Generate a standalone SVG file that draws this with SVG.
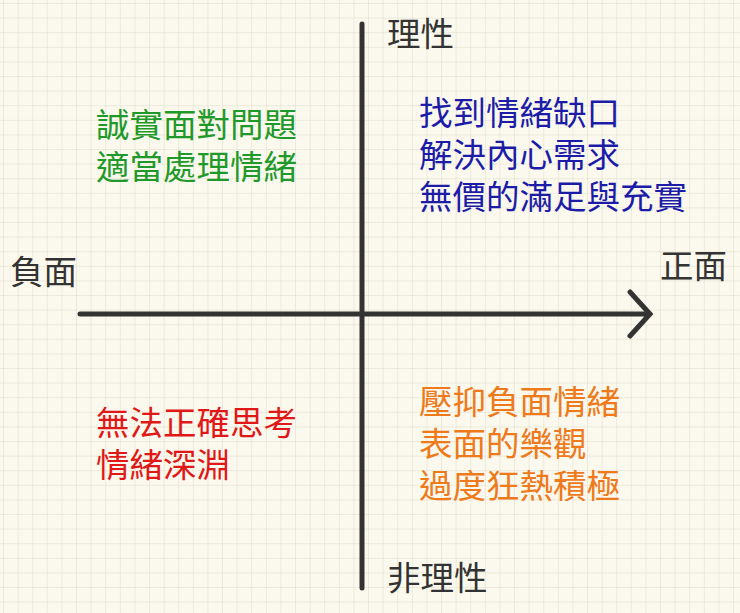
<svg xmlns="http://www.w3.org/2000/svg" width="740" height="613" viewBox="0 0 740 613">
<defs>
<pattern id="g" width="14.6" height="14.6" patternUnits="userSpaceOnUse" x="4" y="4">
<path d="M14.6 0V14.6H0" fill="none" stroke="#dedbc6" stroke-width="1"/>
</pattern>
<style>
text{font-family:"Noto Sans CJK TC","Noto Sans CJK SC",sans-serif;font-size:33.5px}
.ax{fill:#333}
.g{fill:#1f9a2a}.b{fill:#1c1ca8}.r{fill:#e01818}.o{fill:#ee7a1c}
</style>
</defs>
<rect width="740" height="613" fill="#fbf9ee"/>
<rect width="740" height="613" fill="url(#g)"/>
<g id="connectors" stroke="#333" stroke-width="5" stroke-linecap="round" fill="none">
<path d="M362 24V588"/>
<path d="M80 314H650M630 292L650 314L630 336"/>
</g>
<g id="labels" class="ax">
<text class="ax" x="387" y="46">理性</text>
<text class="ax" x="387" y="590">非理性</text>
<text class="ax" x="10" y="284">負面</text>
<text class="ax" x="660" y="278">正面</text>
</g>
<g id="q1"><text class="g" x="96" y="137">誠實面對問題</text><text class="g" x="96" y="179">適當處理情緒</text></g>
<g id="q2"><text class="b" x="419" y="125">找到情緒缺口</text><text class="b" x="419" y="167">解決內心需求</text><text class="b" x="419" y="209">無價的滿足與充實</text></g>
<g id="q3"><text class="r" x="96" y="435">無法正確思考</text><text class="r" x="96" y="477">情緒深淵</text></g>
<g id="q4"><text class="o" x="419" y="414">壓抑負面情緒</text><text class="o" x="419" y="456">表面的樂觀</text><text class="o" x="419" y="498">過度狂熱積極</text></g>
</svg>
